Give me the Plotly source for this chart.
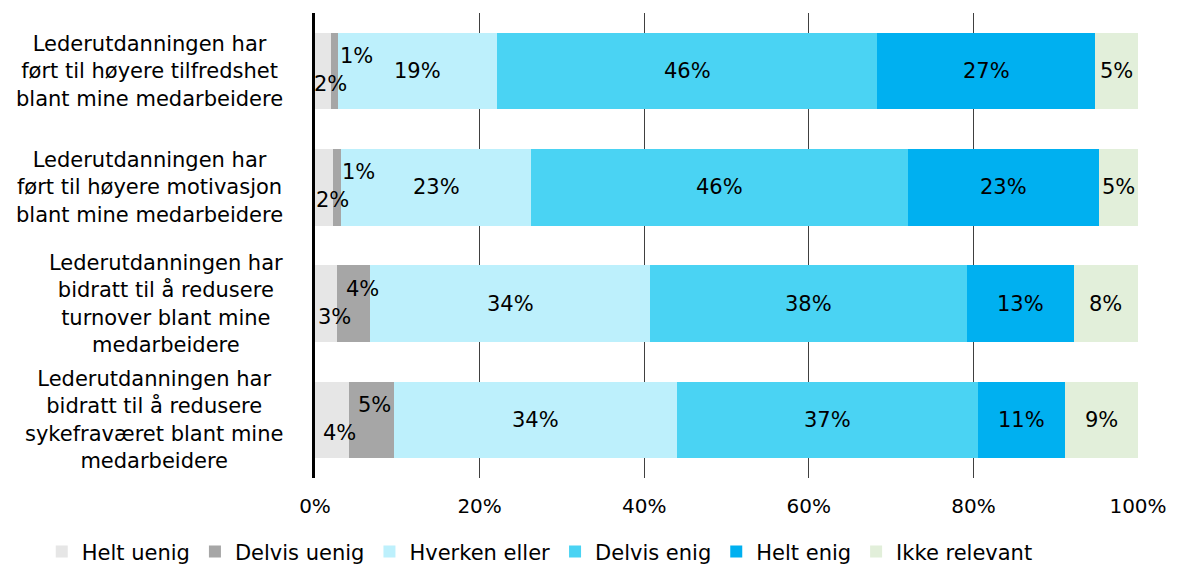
import plotly.graph_objects as go

categories = [
    "Lederutdanningen har<br>ført til høyere tilfredshet<br>blant mine medarbeidere",
    "Lederutdanningen har<br>ført til høyere motivasjon<br>blant mine medarbeidere",
    "Lederutdanningen har<br>bidratt til å redusere<br>turnover blant mine<br>medarbeidere",
    "Lederutdanningen har<br>bidratt til å redusere<br>sykefraværet blant mine<br>medarbeidere",
]
cat_ids = ["c1", "c2", "c3", "c4"]

series_names = ["Helt uenig", "Delvis uenig", "Hverken eller", "Delvis enig", "Helt enig", "Ikke relevant"]
helt_uenig = [1.9, 2.2, 2.7, 4.1]
delvis_uenig = [0.9, 1.0, 4.0, 5.5]
hverken = [19.3, 23.1, 34.0, 34.4]
delvis_enig = [46.2, 45.8, 38.5, 36.5]
helt_enig = [26.5, 23.1, 13.0, 10.6]
ikke_relevant = [5.2, 4.9, 7.8, 9.0]

labels_helt_uenig = ["2%", "2%", "3%", "4%"]
labels_delvis_uenig = ["1%", "1%", "4%", "5%"]
labels_hverken = ["19%", "23%", "34%", "34%"]
labels_delvis_enig = ["46%", "46%", "38%", "37%"]
labels_helt_enig = ["27%", "23%", "13%", "11%"]
labels_ikke = ["5%", "5%", "8%", "9%"]

x_ticks = [0, 20, 40, 60, 80, 100]
x_tick_labels = ["0%", "20%", "40%", "60%", "80%", "100%"]

colors = ["#E6E6E6", "#A6A6A6", "#BDF0FC", "#4AD3F3", "#00B0F0", "#E2EFDA"]
FONT = "DejaVu Sans"
FS = 20

all_values = [helt_uenig, delvis_uenig, hverken, delvis_enig, helt_enig, ikke_relevant]
all_labels = [labels_helt_uenig, labels_delvis_uenig, labels_hverken, labels_delvis_enig, labels_helt_enig, labels_ikke]

fig = go.Figure()
for name, vals, col in zip(series_names, all_values, colors):
    fig.add_trace(go.Bar(
        y=cat_ids, x=vals, name=name, orientation="h",
        legendgroup=name,
        marker=dict(color=col, line=dict(width=0)),
        hoverinfo="skip",
    ))

annotations = []
lab_font = dict(family=FONT, size=21, color="#000000")
cat_font = dict(family=FONT, size=21, color="#000000")
for j, cid in enumerate(cat_ids):
    start = helt_uenig[j] + delvis_uenig[j]
    for vals, labs in zip(all_values[2:], all_labels[2:]):
        annotations.append(dict(
            x=start + vals[j] / 2, y=cid, xref="x", yref="y", text=labs[j],
            showarrow=False, xanchor="center", yanchor="middle", font=lab_font,
        ))
        start += vals[j]
    annotations.append(dict(
        x=helt_uenig[j] / 2, y=cid, xref="x", yref="y", text=labels_helt_uenig[j],
        showarrow=False, xanchor="center", yanchor="middle", xshift=8, yshift=-13,
        font=lab_font,
    ))
    annotations.append(dict(
        x=helt_uenig[j], y=cid, xref="x", yref="y", text=labels_delvis_uenig[j],
        showarrow=False, xanchor="left", yanchor="middle", xshift=7, yshift=15,
        font=lab_font,
    ))
    annotations.append(dict(
        x=0, y=cid, xref="paper", yref="y", text=categories[j],
        showarrow=False, xanchor="right", yanchor="middle", xshift=-30, align="center",
        font=cat_font,
    ))

fig.update_layout(
    barmode="stack",
    bargap=0.34,
    width=1178, height=565,
    margin=dict(l=315, r=40, t=13, b=87, autoexpand=False),
    paper_bgcolor="white", plot_bgcolor="white",
    font=dict(family=FONT, size=FS, color="#000000"),
    xaxis=dict(
        range=[0, 100], tickvals=x_ticks, ticktext=x_tick_labels,
        showgrid=True, gridcolor="#404040", gridwidth=1,
        zeroline=False, showline=False, ticks="", ticklen=0,
        ticklabelstandoff=14,
        tickfont=dict(family=FONT, size=FS, color="#000000"),
        automargin=False,
    ),
    yaxis=dict(
        categoryorder="array", categoryarray=cat_ids, autorange="reversed",
        showticklabels=False, showline=True, linecolor="#000000", linewidth=3,
        showgrid=False, zeroline=False, ticks="", automargin=False,
    ),
    legend=dict(
        orientation="h", xref="paper", yref="paper",
        x=-0.332, xanchor="left", y=-0.159, yanchor="middle",
        traceorder="grouped", tracegroupgap=22, itemwidth=30,
        font=dict(family=FONT, size=21, color="#000000"),
    ),
    annotations=annotations,
    showlegend=True,
)

fig.write_html("out.html")
